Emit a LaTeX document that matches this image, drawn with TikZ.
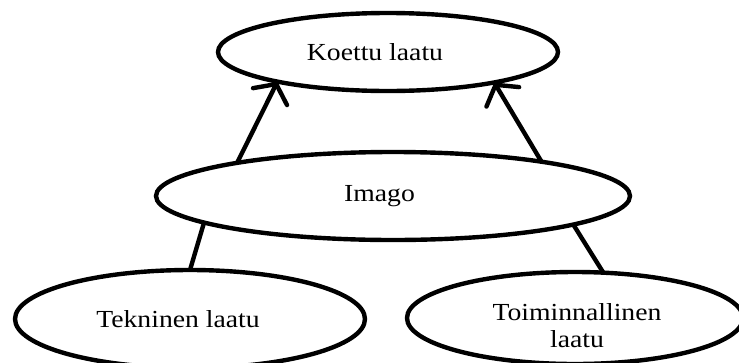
\documentclass[tikz,border=0pt]{standalone}
\usepackage{fontspec}
\setmainfont{Liberation Serif}[FakeStretch=1.13]
\usetikzlibrary{shapes.geometric,arrows.meta}
\tikzset{
  oval/.style={ellipse, draw=black, line width=4.4pt, inner sep=0pt, outer sep=0pt,
    align=center, font=\fontsize{24.5}{27}\selectfont},
  ovaltext/.style={inner sep=0pt, align=center, font=\fontsize{24.5}{27}\selectfont},
  conn/.style={line width=4.4pt, draw=black},
  arr/.style={conn, -{Straight Barb[length=14pt,width=38pt,line cap=round]}}
}
\begin{document}
\begin{tikzpicture}[x=1pt,y=-1pt]
\useasboundingbox[fill=white] (0,0) rectangle (739,362);
\node[oval, minimum width=340pt, minimum height=78pt] (koettu) at (388,52) {\hspace*{-26pt}Koettu laatu};
\node[oval, minimum width=474pt, minimum height=88pt] (imago) at (393,196) {\hspace*{-27pt}Imago};
\node[oval, minimum width=350pt, minimum height=98pt] (tekn) at (190,319) {\hspace*{-24pt}Tekninen laatu};
\node[oval, minimum width=336pt, minimum height=92pt] (toim) at (575,318) {};
\node[ovaltext] (toimlabel) at (577,326) {Toiminnallinen\\laatu};
\draw[arr] (imago.168) -- (koettu.195);
\draw[arr] (imago.13) -- (koettu.344);
\draw[conn] (tekn.90) -- (imago.188.8);
\draw[conn] (toim.58) -- (imago.351.9);
\end{tikzpicture}
\end{document}
